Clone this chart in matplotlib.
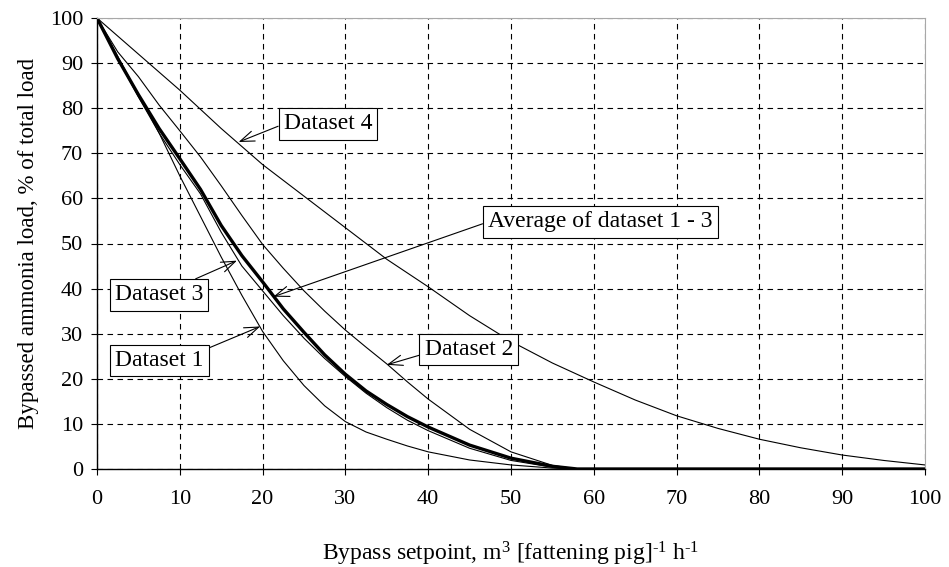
import matplotlib
matplotlib.use("Agg")
import matplotlib.pyplot as plt

plt.rcParams["font.family"] = ["Liberation Serif", "DejaVu Serif"]
plt.rcParams["mathtext.fontset"] = "custom"
plt.rcParams["mathtext.rm"] = "Liberation Serif"
plt.rcParams["mathtext.it"] = "Liberation Serif:italic"

# bypass setpoint (m3 per pig per hour) and bypassed load (% of total)
x_fine = [0, 2.5, 5, 7.5, 10, 12.5, 15, 17.5, 20, 22.5, 25, 27.5, 30, 32.5,
          35, 37.5, 40, 45, 50, 55, 58, 60, 70, 80, 90, 100]
ds1 = [100, 91.5, 83, 74.5, 65, 56, 47, 38.5, 30.5, 24, 18.5, 14, 10.5, 8.2,
       6.6, 5.1, 3.8, 2.0, 0.9, 0.2, 0, 0, 0, 0, 0, 0]
ds2 = [100, 92.5, 87, 80.7, 75, 69.2, 62.8, 56.2, 49.8, 44.5, 39.5, 35, 30.8, 27,
       23.3, 19.3, 15.5, 8.8, 3.8, 0.8, 0, 0, 0, 0, 0, 0]
ds3 = [100, 91, 82.5, 74.5, 67.5, 61, 52.5, 45, 39.5, 34, 29, 24.5, 20.5, 16.8,
       13.6, 10.8, 8.5, 4.6, 1.9, 0.4, 0, 0, 0, 0, 0, 0]
avg13 = [100, 91, 83, 75.5, 68.8, 62, 54, 47.3, 41.5, 35.5, 30.3, 25.3, 21, 17.3,
         14.3, 11.6, 9.3, 5.3, 2.4, 0.6, 0, 0, 0, 0, 0, 0]

x_ds4 = [0, 5, 10, 15, 20, 25, 30, 35, 40, 45, 50, 55, 60, 65, 70, 75, 80, 85,
         90, 95, 100]
ds4 = [100, 92, 84, 75.5, 67.5, 60.5, 53.5, 46.5, 40.4, 34, 28.3, 23.5, 19.3,
       15.3, 11.8, 9, 6.6, 4.7, 3.1, 1.9, 0.9]

# label text, box centre, arrow tip, arrow start inside the box
labels = ["Dataset 4", "Average of dataset 1 - 3", "Dataset 2", "Dataset 3", "Dataset 1"]
label_pos = [(27.9, 76.5), (60.8, 54.8), (44.9, 26.5), (7.5, 38.6), (7.5, 24.0)]
arrow_tip = [(17.1, 72.5), (21.3, 38.2), (35.0, 23.1), (16.9, 46.2), (19.7, 31.6)]
arrow_rel = [(0, 0.5), (0, 0.5), (0, 0.3), (0.77, 1), (1, 1)]

fig = plt.figure(figsize=(9.49, 5.67), dpi=100)
ax = fig.add_axes([97 / 949, 1 - 469 / 567, 828 / 949, 451 / 567])

ax.plot(x_fine, ds1, color="black", lw=0.8)
ax.plot(x_fine, ds2, color="black", lw=0.8)
ax.plot(x_fine, ds3, color="black", lw=0.8)
ax.plot(x_ds4, ds4, color="black", lw=0.8)
ax.plot(x_fine, avg13, color="black", lw=2.4)

ax.set_xlim(0, 100)
ax.set_ylim(0, 100)
ax.set_xticks(range(0, 101, 10))
ax.set_yticks(range(0, 101, 10))
ax.grid(True, color="black", linestyle=(0, (5, 4)), lw=0.8)
ax.set_axisbelow(True)
ax.tick_params(direction="out", length=4, width=0.8, labelsize=16)
ax.tick_params(axis="x", pad=11)
ax.tick_params(axis="y", pad=6)
for side in ("top", "right"):
    ax.spines[side].set_color("#a8a8a8")
for side in ("left", "bottom"):
    ax.spines[side].set_linewidth(1.0)

ax.set_xlabel(r"Bypass setpoint, m$^{3}$ [fattening pig]$^{\text{-}1}$ h$^{\text{-}1}$",
              fontsize=17, labelpad=22)
ax.set_ylabel("Bypassed ammonia load, % of total load", fontsize=16.5, labelpad=8)

for text, pos, tip, rel in zip(labels, label_pos, arrow_tip, arrow_rel):
    ax.annotate(text, xy=tip, xytext=pos, ha="center", va="center", fontsize=17,
                bbox=dict(boxstyle="square,pad=0.22", fc="white", ec="black", lw=0.8),
                arrowprops=dict(arrowstyle="->,head_length=0.6,head_width=0.22",
                                color="black", lw=0.8, relpos=rel,
                                shrinkA=0, shrinkB=0))

fig.savefig("out.png", dpi=100)
